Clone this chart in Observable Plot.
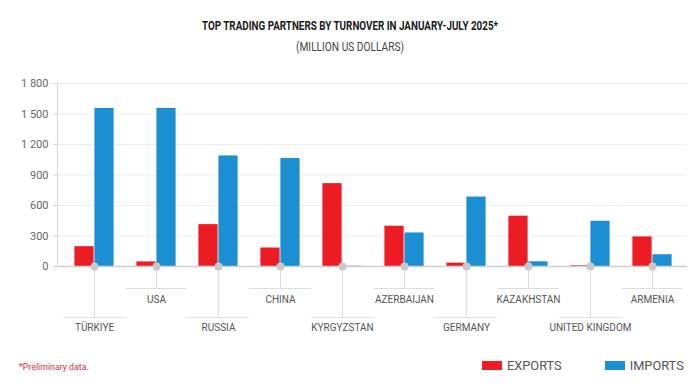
<!DOCTYPE html>
<html>
<head>
<meta charset="utf-8">
<script src="https://cdn.jsdelivr.net/npm/d3@7"></script>
<script src="https://cdn.jsdelivr.net/npm/@observablehq/plot@0.6"></script>
<style>
  html, body { margin: 0; padding: 0; background: #fff; }
  #page { position: relative; width: 700px; height: 392px; overflow: hidden; }
  #head { position: relative; height: 60px; }
  .t { position: absolute; left: 350px; white-space: nowrap; line-height: 16px; font-family: Roboto, sans-serif; transform-origin: 0 50%; }
  .t1 { top: 18px; font-weight: bold; font-size: 13px; color: #1a1a1a; }
  .t2 { top: 39px; font-size: 13px; color: #444; }
  #chart { height: 280px; }
  #foot { position: relative; height: 52px; }
  #note { position: absolute; left: 19px; top: 21px; line-height: 12px; font-family: Roboto, sans-serif; font-size: 8.8px; color: #d9323a; }
  #legend { position: absolute; left: 482px; top: 16px; width: 218px; }
  #legend div { font-family: Roboto, sans-serif !important; font-size: 12.8px !important; color: #555 !important;
                min-height: 18px !important; margin: 0 !important; display: flex !important; flex-wrap: nowrap !important; white-space: nowrap; }
  #legend span { margin-right: 43px !important; display: inline-flex !important; align-items: center; }
  #legend svg { margin-right: 5px !important; flex: none; }
</style>
</head>
<body>
<div id="page">
  <div id="head">
    <div class="t t1" data-w="296">TOP TRADING PARTNERS BY TURNOVER IN JANUARY-JULY 2025*</div>
    <div class="t t2" data-w="108">(MILLION US DOLLARS)</div>
  </div>
  <div id="chart"></div>
  <div id="foot">
    <div id="note">*Preliminary data.</div>
    <div id="legend"></div>
  </div>
</div>
<script>
const countries = ["TÜRKIYE", "USA", "RUSSIA", "CHINA", "KYRGYZSTAN", "AZERBAIJAN", "GERMANY", "KAZAKHSTAN", "UNITED KINGDOM", "ARMENIA"];
const exportsValues = [195, 45, 412, 182, 815, 396, 33, 495, 7, 291];
const importsValues = [1555, 1555, 1088, 1062, 3, 330, 683, 46, 445, 116];
const seriesNames = ["EXPORTS", "IMPORTS"];
const seriesColors = ["#ec1c24", "#1b8fd2"];
const yTicks = [0, 300, 600, 900, 1200, 1500, 1800];
const yTickLabels = ["0", "300", "600", "900", "1 200", "1 500", "1 800"];

// condense the heading lines to the reference widths
document.querySelectorAll("#head .t").forEach(el => {
  const w = el.getBoundingClientRect().width;
  const target = +el.dataset.w;
  const s = target / w;
  el.style.transform = `translateX(${-target / 2}px) scaleX(${s})`;
});

const rows = countries.map((c, i) => ({country: c, exports: exportsValues[i], imports: importsValues[i]}));
const shortRow = countries.filter((c, i) => i % 2 === 1);
const longRow = countries.filter((c, i) => i % 2 === 0);

const W = 700, H = 280;
const xRange = [59, 687];
const bw = (xRange[1] - xRange[0]) / countries.length;
const barW = 20;
const outer = bw / 2 - barW;
const inner = bw / 2;
const grey = "#ddd";

const chart = Plot.plot({
  width: W,
  height: H,
  marginLeft: 57,
  marginRight: 13,
  marginTop: 23,
  marginBottom: 74,
  style: {fontFamily: "Roboto, sans-serif", fontSize: "10px", color: "#555", background: "#fff"},
  x: {type: "band", domain: countries, range: xRange, padding: 0, axis: null},
  y: {domain: [0, 1800], axis: null},
  color: {domain: seriesNames, range: seriesColors},
  marks: [
    Plot.gridY({ticks: yTicks.slice(1), stroke: "#ececec", strokeOpacity: 1}),
    Plot.frame({anchor: "left", stroke: "#d8d8d8"}),
    Plot.axisY({ticks: yTicks, tickSize: 4, tickPadding: 5, stroke: "#d0d0d0", fill: "#666", fontSize: 11,
                tickFormat: d => yTickLabels[yTicks.indexOf(d)], label: null}),
    Plot.barY(rows, {x: "country", y: "exports", fill: seriesColors[0], insetLeft: outer, insetRight: inner}),
    Plot.barY(rows, {x: "country", y: "imports", fill: seriesColors[1], insetLeft: inner, insetRight: outer}),
    Plot.ruleY([0], {stroke: "#d0d0d0", strokeWidth: 1.5, insetLeft: -2}),
    Plot.ruleX(shortRow, {x: d => d, y1: 0, y2: 0, insetBottom: -22, stroke: grey}),
    Plot.ruleX(longRow, {x: d => d, y1: 0, y2: 0, insetBottom: -51, stroke: grey}),
    Plot.tickY(shortRow, {x: d => d, y: 0, dy: 22, stroke: grey, insetLeft: 0.5, insetRight: 0.5}),
    Plot.tickY(longRow, {x: d => d, y: 0, dy: 51, stroke: grey, insetLeft: 0.5, insetRight: 0.5}),
    Plot.dot(countries, {x: d => d, y: 0, r: 4, fill: "#c9c9c9", stroke: "none"}),
    Plot.text(shortRow, {x: d => d, y: 0, text: d => d, dy: 33, fontSize: 10, fill: "#555"}),
    Plot.text(longRow, {x: d => d, y: 0, text: d => d, dy: 61, fontSize: 10, fill: "#555"})
  ]
});
document.getElementById("chart").appendChild(chart);

const legend = Plot.legend({
  color: {domain: seriesNames, range: seriesColors},
  swatchWidth: 20,
  swatchHeight: 9,
  className: "lg"
});
document.getElementById("legend").appendChild(legend);
</script>
</body>
</html>
